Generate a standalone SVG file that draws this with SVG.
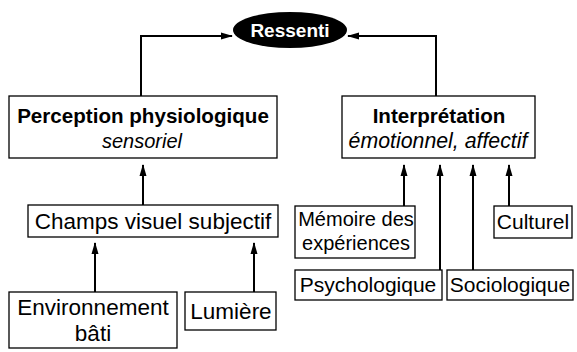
<svg xmlns="http://www.w3.org/2000/svg" width="577" height="352" viewBox="0 0 577 352">
<defs>
<marker id="ah" markerUnits="userSpaceOnUse" markerWidth="12" markerHeight="8" refX="11" refY="4" orient="auto">
<path d="M0,0.5 L12,4 L0,7.5 Z" fill="#000"/>
</marker>
<style>
.box{fill:#fff;stroke:#000;stroke-width:1.3}
.t{font-family:"Liberation Sans",Arial,sans-serif;font-size:21px;fill:#000;text-anchor:middle}
.l{font-size:22.5px}
.b{font-weight:bold;font-size:20.6px}
.i{font-style:italic;font-size:20px}
.c{fill:none;stroke:#000;stroke-width:2;marker-end:url(#ah)}
</style>
</defs>
<rect width="577" height="352" fill="#fff"/>
<g id="connectors">
<path class="c" d="M141,96 V36 H232"/>
<path class="c" d="M436,96 V36 H348"/>
<path class="c" d="M143,205 V165"/>
<path class="c" d="M95,292 V243"/>
<path class="c" d="M254,292 V243"/>
<path class="c" d="M404,206 V165"/>
<path class="c" d="M440,270 V165"/>
<path class="c" d="M473,270 V165"/>
<path class="c" d="M509,206 V165"/>
</g>
<g id="ressenti">
<ellipse cx="290" cy="30" rx="57" ry="18" fill="#000"/>
<text class="t b" x="290" y="37" style="fill:#fff;font-size:19px">Ressenti</text>
</g>
<g id="perception">
<rect class="box" x="9" y="96" width="268" height="62"/>
<text class="t b" x="143" y="123">Perception physiologique</text>
<text class="t i" x="142" y="148">sensoriel</text>
</g>
<g id="interpretation">
<rect class="box" x="342" y="96" width="193" height="62"/>
<text class="t b" x="439" y="123">Interprétation</text>
<text class="t i" x="438" y="148" style="font-size:21.3px">émotionnel, affectif</text>
</g>
<g id="champs">
<rect class="box" x="28" y="205" width="250" height="32"/>
<text class="t l" x="153" y="229">Champs visuel subjectif</text>
</g>
<g id="environnement">
<rect class="box" x="9" y="292" width="168" height="56"/>
<text class="t l" x="93" y="315">Environnement</text>
<text class="t l" x="93" y="341">bâti</text>
</g>
<g id="lumiere">
<rect class="box" x="185" y="292" width="91" height="38"/>
<text class="t l" x="231" y="319">Lumière</text>
</g>
<g id="memoire">
<rect class="box" x="295" y="206" width="120" height="52"/>
<text class="t" x="356" y="226" style="font-size:20px">Mémoire des</text>
<text class="t" x="356" y="250" style="font-size:20px">expériences</text>
</g>
<g id="culturel">
<rect class="box" x="494" y="206" width="78" height="32"/>
<text class="t" x="533" y="229">Culturel</text>
</g>
<g id="psychologique">
<rect class="box" x="295" y="270" width="147" height="30"/>
<text class="t" x="368" y="292">Psychologique</text>
</g>
<g id="sociologique">
<rect class="box" x="447" y="270" width="126" height="30"/>
<text class="t" x="510" y="292">Sociologique</text>
</g>
</svg>
